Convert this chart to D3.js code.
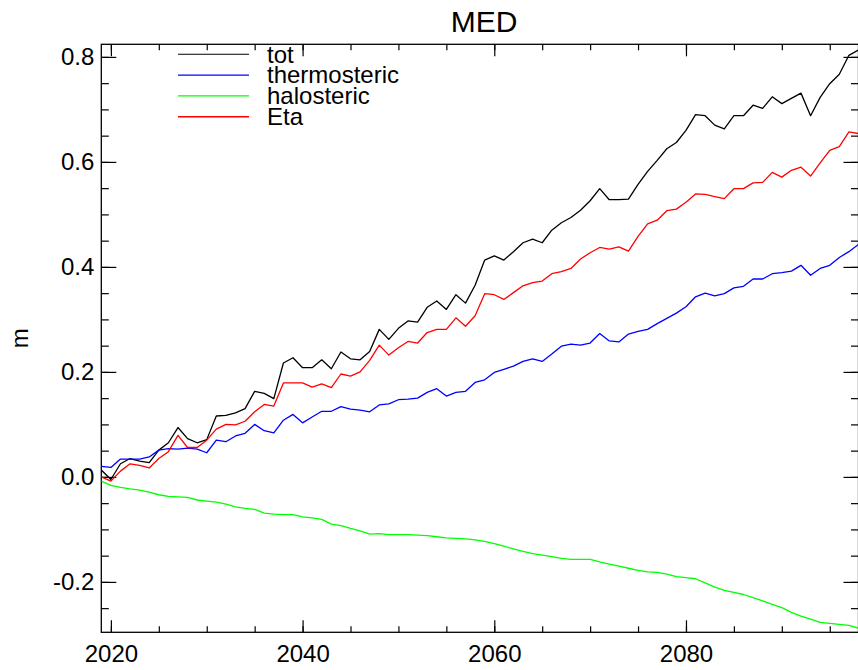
<!DOCTYPE html>
<style>
  body { margin: 0; background: #fff; }
  svg { font-family: "Liberation Sans", Arial, Helvetica, sans-serif; }
  .axis text { font-size: 24px; fill: #000; }
  .axis line { stroke: #000; stroke-width: 1.2; }
  .axis path { display: none; }
  .frame { fill: none; stroke: #000; stroke-width: 1.3; }
  .series { fill: none; stroke-width: 1.3; stroke-linejoin: round; }
  .legend text { font-size: 24px; }
</style>
<body>
</body>
<script src="https://cdn.jsdelivr.net/npm/d3@7"></script>
<script>
  const W = 858, H = 670;
  const l = 101.3, r = 858.5, t = 44.3, b = 632.3;

  // yearly values, 2019..2098
  const firstYear = 2019, lastYear = 2098;
  const years = d3.range(firstYear, lastYear + 1);

  const tot = [
    0.013, -0.005, 0.025, 0.035, 0.030, 0.027, 0.051, 0.065, 0.094, 0.073,
    0.065, 0.071, 0.116, 0.117, 0.122, 0.130, 0.163, 0.159, 0.149, 0.217,
    0.227, 0.208, 0.208, 0.223, 0.206, 0.238, 0.225, 0.223, 0.239, 0.281,
    0.262, 0.283, 0.297, 0.295, 0.323, 0.335, 0.319, 0.347, 0.331, 0.365,
    0.413, 0.421, 0.413, 0.429, 0.446, 0.453, 0.446, 0.470, 0.484, 0.494,
    0.508, 0.526, 0.549, 0.528, 0.528, 0.529, 0.557, 0.582, 0.603, 0.625,
    0.637, 0.660, 0.690, 0.688, 0.670, 0.663, 0.688, 0.688, 0.708, 0.702,
    0.724, 0.711, 0.721, 0.731, 0.688, 0.723, 0.749, 0.767, 0.803, 0.813];

  const thermosteric = [
    0.020, 0.018, 0.034, 0.034, 0.034, 0.038, 0.051, 0.054, 0.053, 0.055,
    0.053, 0.046, 0.070, 0.067, 0.078, 0.083, 0.100, 0.088, 0.084, 0.108,
    0.119, 0.103, 0.114, 0.125, 0.125, 0.134, 0.129, 0.127, 0.124, 0.137,
    0.139, 0.147, 0.148, 0.150, 0.161, 0.168, 0.154, 0.161, 0.163, 0.180,
    0.185, 0.199, 0.205, 0.211, 0.220, 0.225, 0.220, 0.234, 0.249, 0.253,
    0.251, 0.255, 0.273, 0.259, 0.257, 0.272, 0.277, 0.281, 0.292, 0.302,
    0.312, 0.324, 0.343, 0.350, 0.345, 0.349, 0.360, 0.363, 0.377, 0.377,
    0.387, 0.389, 0.392, 0.403, 0.384, 0.397, 0.403, 0.418, 0.429, 0.443];

  const halosteric = [
    -0.008, -0.016, -0.020, -0.023, -0.025, -0.029, -0.034, -0.037, -0.038, -0.039,
    -0.044, -0.046, -0.048, -0.052, -0.057, -0.060, -0.062, -0.069, -0.071, -0.072,
    -0.072, -0.076, -0.078, -0.081, -0.090, -0.093, -0.098, -0.103, -0.109, -0.108,
    -0.110, -0.110, -0.110, -0.111, -0.112, -0.114, -0.116, -0.117, -0.118, -0.120,
    -0.123, -0.127, -0.132, -0.137, -0.142, -0.146, -0.149, -0.152, -0.155, -0.157,
    -0.157, -0.157, -0.162, -0.166, -0.170, -0.174, -0.178, -0.181, -0.182, -0.185,
    -0.190, -0.192, -0.194, -0.202, -0.210, -0.216, -0.220, -0.224, -0.230, -0.236,
    -0.243, -0.249, -0.258, -0.265, -0.271, -0.277, -0.279, -0.281, -0.283, -0.288];

  const eta = [
    0.000, -0.008, 0.011, 0.025, 0.022, 0.017, 0.035, 0.048, 0.079, 0.056,
    0.056, 0.070, 0.091, 0.100, 0.099, 0.106, 0.124, 0.138, 0.135, 0.179,
    0.179, 0.179, 0.171, 0.177, 0.170, 0.196, 0.192, 0.200, 0.222, 0.251,
    0.232, 0.246, 0.258, 0.255, 0.275, 0.281, 0.281, 0.303, 0.287, 0.307,
    0.349, 0.347, 0.338, 0.351, 0.364, 0.370, 0.373, 0.387, 0.391, 0.397,
    0.415, 0.427, 0.437, 0.434, 0.438, 0.430, 0.458, 0.482, 0.489, 0.507,
    0.510, 0.523, 0.539, 0.538, 0.534, 0.530, 0.549, 0.549, 0.560, 0.561,
    0.580, 0.571, 0.584, 0.590, 0.573, 0.598, 0.622, 0.629, 0.657, 0.654];

  const seriesNames = ['tot', 'thermosteric', 'halosteric', 'Eta'];
  const seriesColors = ['#000000', '#0000ff', '#00ff00', '#ff0000'];
  const seriesValues = [tot, thermosteric, halosteric, eta];

  const xMajor = [2020, 2040, 2060, 2080];
  const xMinor = d3.range(2020, 2100, 5);
  const yMajor = [-0.2, 0.0, 0.2, 0.4, 0.6, 0.8];
  const yMinor = d3.range(-0.25, 0.82, 0.05);
  const yDomain = [-0.296, 0.824];

  const x = d3.scaleLinear().domain([firstYear, lastYear]).range([l, r]);
  const y = d3.scaleLinear().domain(yDomain).range([b, t]);

  const svg = d3.select('body').append('svg')
    .attr('width', W).attr('height', H);

  svg.append('defs').append('clipPath').attr('id', 'plot')
    .append('rect').attr('x', l).attr('y', t).attr('width', r - l).attr('height', b - t);

  // title and y label
  svg.append('text').attr('x', 484).attr('y', 32)
    .attr('text-anchor', 'middle').style('font-size', '30px').text('MED');
  svg.append('text')
    .attr('transform', `translate(28, ${(t + b) / 2}) rotate(-90)`)
    .attr('text-anchor', 'middle').style('font-size', '24px').text('m');

  // axes: ticks point inward, labels only bottom/left
  const fmtY = d => d3.format('.1f')(d).replace('−', '-');
  svg.append('g').attr('class', 'axis').attr('transform', `translate(0, ${b})`)
    .call(d3.axisBottom(x).tickValues(xMajor).tickSize(-12).tickPadding(13).tickFormat(d3.format('d')));
  svg.append('g').attr('class', 'axis').attr('transform', `translate(0, ${b})`)
    .call(d3.axisBottom(x).tickValues(xMinor).tickSize(-6).tickFormat(''));
  svg.append('g').attr('class', 'axis').attr('transform', `translate(0, ${t})`)
    .call(d3.axisTop(x).tickValues(xMajor).tickSize(-12).tickFormat(''));
  svg.append('g').attr('class', 'axis').attr('transform', `translate(0, ${t})`)
    .call(d3.axisTop(x).tickValues(xMinor).tickSize(-6).tickFormat(''));

  svg.append('g').attr('class', 'axis').attr('transform', `translate(${l}, 0)`)
    .call(d3.axisLeft(y).tickValues(yMajor).tickSize(-15).tickPadding(7).tickFormat(fmtY));
  svg.append('g').attr('class', 'axis').attr('transform', `translate(${l}, 0)`)
    .call(d3.axisLeft(y).tickValues(yMinor).tickSize(-7.5).tickFormat(''));
  svg.append('g').attr('class', 'axis').attr('transform', `translate(${r}, 0)`)
    .call(d3.axisRight(y).tickValues(yMajor).tickSize(-15).tickFormat(''));
  svg.append('g').attr('class', 'axis').attr('transform', `translate(${r}, 0)`)
    .call(d3.axisRight(y).tickValues(yMinor).tickSize(-7.5).tickFormat(''));

  svg.append('rect').attr('class', 'frame')
    .attr('x', l).attr('y', t).attr('width', r - l).attr('height', b - t);

  // lines
  const line = d3.line().x((d, i) => x(years[i])).y(d => y(d));
  svg.append('g').attr('clip-path', 'url(#plot)')
    .selectAll('path')
    .data(seriesValues)
    .join('path')
    .attr('class', 'series')
    .attr('stroke', (d, i) => seriesColors[i])
    .attr('stroke-width', (d, i) => i == 0 ? 1.1 : 1.4)
    .attr('d', line);

  // legend
  const lg = svg.append('g').attr('class', 'legend');
  const legendY = i => 54.3 + i * 20.8;
  lg.selectAll('line')
    .data(seriesNames)
    .join('line')
    .attr('x1', 178).attr('x2', 249)
    .attr('y1', (d, i) => legendY(i)).attr('y2', (d, i) => legendY(i))
    .attr('stroke', (d, i) => seriesColors[i])
    .attr('stroke-width', (d, i) => i == 0 ? 1.1 : 1.4);
  lg.selectAll('text')
    .data(seriesNames)
    .join('text')
    .attr('x', 267).attr('y', (d, i) => legendY(i) + 8.2)
    .text(d => d);
</script>
